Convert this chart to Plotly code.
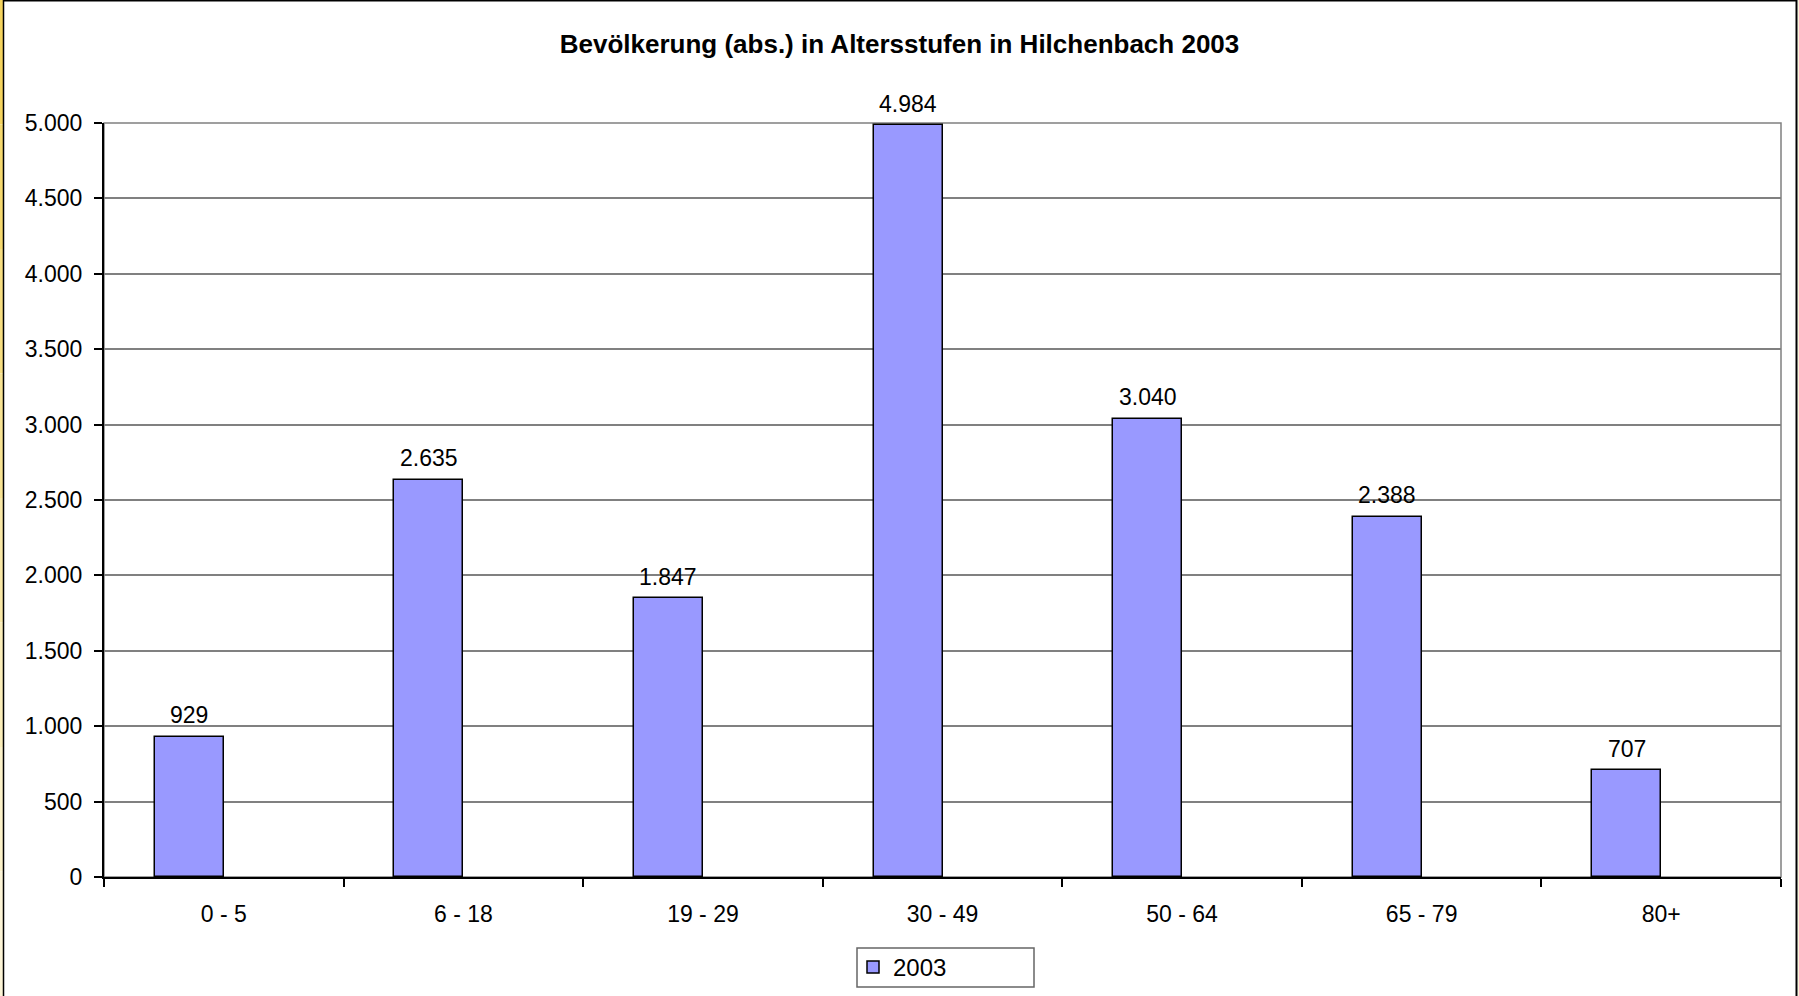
import plotly.graph_objects as go

# ---- data ----
age_groups = ["0 - 5", "6 - 18", "19 - 29", "30 - 49", "50 - 64", "65 - 79", "80+"]
population_2003 = [929, 2635, 1847, 4984, 3040, 2388, 707]
series_name = "2003"
title_text = "Bevölkerung (abs.) in Altersstufen in Hilchenbach 2003"
y_ticks = [0, 500, 1000, 1500, 2000, 2500, 3000, 3500, 4000, 4500, 5000]

W, H = 1799, 996
L, R, T, B = 104, 18, 123, 119
PW, PH = W - L - R, H - T - B
FONT = "Liberation Sans, Arial, sans-serif"
BAR_W = 0.288


def px(x):
    return (x - L) / PW


def py(y):
    return (H - B - y) / PH


fig = go.Figure()
fig.add_trace(go.Bar(
    x=age_groups,
    y=population_2003,
    name=series_name,
    width=BAR_W,
    offset=-BAR_W,
    marker=dict(color="#9999FF", line=dict(color="#000000", width=1.5)),
    showlegend=True,
))

annotations = []
for cat, val in zip(age_groups, population_2003):
    annotations.append(dict(
        x=cat, y=val, xref="x", yref="y",
        text=f"{val:,}".replace(",", "."),
        showarrow=False, xanchor="center", yanchor="middle",
        xshift=-BAR_W / 2 * PW / len(age_groups), yshift=21.5,
        font=dict(size=23, family=FONT, color="#000000"),
    ))

shapes = []
# left decorative gradient strip
bands = ["#F4D35E", "#F5D86E", "#F6DD80", "#F7E292", "#F8E7A5", "#FAEDB8", "#FBF1C8", "#FCF4D6"]
n = len(bands)
for i, c in enumerate(bands):
    shapes.append(dict(type="rect", xref="paper", yref="paper",
                       x0=px(0), x1=px(3), y0=py(H * (i + 1) / n), y1=py(H * i / n),
                       fillcolor=c, line=dict(width=0), layer="below"))
shapes.append(dict(type="rect", xref="paper", yref="paper",
                   x0=px(1798), x1=px(W), y0=py(H), y1=py(0),
                   fillcolor="#FCF4D6", line=dict(width=0), layer="below"))
# outer frame lines
shapes.append(dict(type="line", xref="paper", yref="paper", x0=px(3), x1=px(1797), y0=py(0.5), y1=py(0.5),
                   line=dict(color="#000000", width=2)))
shapes.append(dict(type="line", xref="paper", yref="paper", x0=px(3.5), x1=px(3.5), y0=py(0), y1=py(H),
                   line=dict(color="#000000", width=1.5)))
shapes.append(dict(type="line", xref="paper", yref="paper", x0=px(1796.5), x1=px(1796.5), y0=py(0), y1=py(H),
                   line=dict(color="#000000", width=2)))
# plot area border
shapes.append(dict(type="rect", xref="paper", yref="paper", x0=0, x1=1, y0=0, y1=1,
                   line=dict(color="#808080", width=1.5), layer="below"))
# legend frame
shapes.append(dict(type="rect", xref="paper", yref="paper", x0=px(857), x1=px(1034), y0=py(987), y1=py(948),
                   line=dict(color="#666666", width=1.5), fillcolor="#FFFFFF", layer="below"))

fig.update_layout(
    width=W, height=H,
    margin=dict(l=L, r=R, t=T, b=B, autoexpand=False),
    paper_bgcolor="#FFFFFF",
    plot_bgcolor="#FFFFFF",
    separators=",.",
    font=dict(family=FONT, size=23, color="#000000"),
    title=dict(text="<b>" + title_text + "</b>", x=0.5, xanchor="center",
               y=1 - 43.5 / H, yanchor="middle", yref="container",
               font=dict(size=26, family=FONT, color="#000000")),
    xaxis=dict(type="category", range=[-0.5, 6.5], tickson="boundaries",
               ticks="outside", ticklen=8, tickwidth=1.5, tickcolor="#000000",
               showline=True, linecolor="#000000", linewidth=2,
               showgrid=False, ticklabelstandoff=15,
               tickfont=dict(size=23, family=FONT)),
    yaxis=dict(range=[0, 5000], tickvals=y_ticks, tickformat=",d",
               ticks="outside", ticklen=8, tickwidth=1.5, tickcolor="#000000",
               showline=True, linecolor="#000000", linewidth=2,
               showgrid=True, gridcolor="#808080", gridwidth=1.5,
               zeroline=False, ticklabelstandoff=7,
               tickfont=dict(size=23, family=FONT)),
    legend=dict(orientation="h", x=px(853), xanchor="left", y=py(945), yanchor="top",
                borderwidth=0, bgcolor="rgba(0,0,0,0)",
                font=dict(size=24, family=FONT), itemwidth=30),
    shapes=shapes,
    annotations=annotations,
    bargap=0,
)

fig.write_html("out.html", config={"displayModeBar": False},
               post_script="document.body.style.margin='0';document.body.style.overflow='hidden';")
